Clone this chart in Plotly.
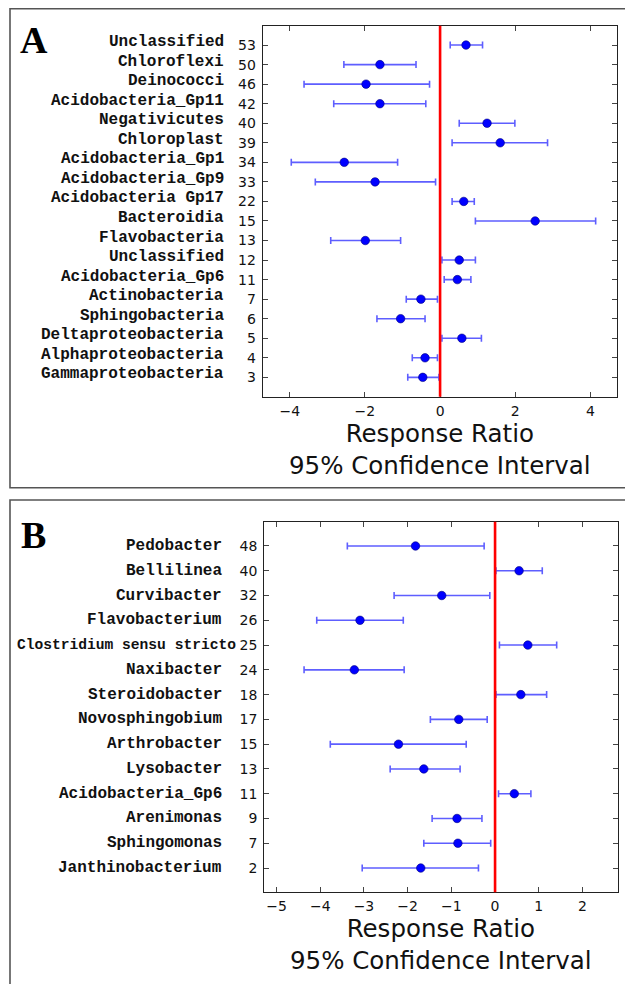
import plotly.graph_objects as go

# ---------------- Panel A data (top to bottom) ----------------
a_names = ["Unclassified", "Chloroflexi", "Deinococci", "Acidobacteria_Gp11",
           "Negativicutes", "Chloroplast", "Acidobacteria_Gp1", "Acidobacteria_Gp9",
           "Acidobacteria Gp17", "Bacteroidia", "Flavobacteria", "Unclassified",
           "Acidobacteria_Gp6", "Actinobacteria", "Sphingobacteria",
           "Deltaproteobacteria", "Alphaproteobacteria", "Gammaproteobacteria"]
a_ids = ["53", "50", "46", "42", "40", "39", "34", "33", "22", "15", "13", "12",
         "11", "7", "6", "5", "4", "3"]
a_mean = [0.69, -1.60, -1.97, -1.60, 1.25, 1.60, -2.55, -1.73, 0.63, 2.53, -1.99,
          0.51, 0.46, -0.51, -1.05, 0.58, -0.40, -0.46]
a_low = [0.27, -2.56, -3.62, -2.83, 0.51, 0.32, -3.96, -3.32, 0.32, 0.94, -2.91,
         0.05, 0.11, -0.90, -1.68, 0.05, -0.74, -0.86]
a_high = [1.13, -0.64, -0.28, -0.38, 1.99, 2.86, -1.13, -0.12, 0.91, 4.14, -1.05,
          0.94, 0.82, -0.07, -0.40, 1.10, -0.07, -0.03]

# ---------------- Panel B data (top to bottom) ----------------
b_names = ["Pedobacter", "Bellilinea", "Curvibacter", "Flavobacterium",
           "Clostridium sensu stricto", "Naxibacter", "Steroidobacter",
           "Novosphingobium", "Arthrobacter", "Lysobacter", "Acidobacteria_Gp6",
           "Arenimonas", "Sphingomonas", "Janthinobacterium"]
b_ids = ["48", "40", "32", "26", "25", "24", "18", "17", "15", "13", "11", "9", "7", "2"]
b_mean = [-1.82, 0.55, -1.22, -3.09, 0.75, -3.22, 0.59, -0.83, -2.21, -1.63, 0.44,
          -0.87, -0.85, -1.70]
b_low = [-3.38, 0.02, -2.31, -4.08, 0.10, -4.37, 0.02, -1.48, -3.77, -2.40, 0.08,
         -1.44, -1.63, -3.04]
b_high = [-0.25, 1.08, -0.12, -2.10, 1.41, -2.08, 1.18, -0.18, -0.66, -0.80, 0.82,
          -0.30, -0.10, -0.38]

a_xticks = [-4, -2, 0, 2, 4]
b_xticks = [-5, -4, -3, -2, -1, 0, 1, 2]

# ---------------- layout helpers ----------------
# page body has an 8px default margin; coordinates below are in window pixels
OFF = 8
W, H = 633 - OFF, 984 - OFF


def px(x):
    return (x - OFF) / W


def py(y):
    return 1 - (y - OFF) / H


fig = go.Figure()

PT_BLUE = "#0000ff"
ERR_BLUE = "rgba(40,40,255,0.75)"


def rows(ids):
    # row positions from top (largest) to bottom (0)
    n = len(ids)
    return [n - 1 - i for i in range(n)]


def add_panel(ids, mean, low, high, xaxis, yaxis):
    plus = [h - m for h, m in zip(high, mean)]
    minus = [m - l for m, l in zip(mean, low)]
    fig.add_trace(go.Scatter(
        x=mean, y=rows(ids), mode="markers", xaxis=xaxis, yaxis=yaxis,
        marker=dict(size=8.5, color=PT_BLUE, line=dict(width=0.6, color="#000080")),
        error_x=dict(type="data", symmetric=False, array=plus, arrayminus=minus,
                     color=ERR_BLUE, thickness=1.6, width=3.5),
        showlegend=False, hoverinfo="skip"))


add_panel(a_ids, a_mean, a_low, a_high, "x", "y")
add_panel(b_ids, b_mean, b_low, b_high, "x2", "y2")

tickfont = dict(family="DejaVu Sans", size=14, color="#111")
common = dict(showline=True, linecolor="#222", linewidth=1.2, mirror="allticks",
              ticks="inside", ticklen=5, tickcolor="#444", showgrid=False,
              zeroline=False, tickfont=tickfont)

A_L, A_R, A_T, A_B = 262.7, 616.7, 25.7, 396.7
B_L, B_R, B_T, B_B = 264.3, 618.3, 521.7, 892.3

nA = len(a_ids)
nB = len(b_ids)


def minus_lbl(v):
    return "\u2212" + str(-v) if v < 0 else str(v)


fig.update_layout(
    width=W, height=H, margin=dict(l=0, r=0, t=0, b=0),
    paper_bgcolor="white", plot_bgcolor="white",
    xaxis=dict(domain=[px(A_L), px(A_R)], range=[-4.72, 4.70], tickvals=a_xticks,
               ticktext=[minus_lbl(v) for v in a_xticks], anchor="y",
               ticklabelstandoff=1, **common),
    yaxis=dict(domain=[py(A_B), py(A_T)], range=[-0.99, nA - 0.01],
               tickvals=rows(a_ids), ticktext=a_ids, anchor="x",
               ticklabelstandoff=3, **common),
    xaxis2=dict(domain=[px(B_L), px(B_R)], range=[-5.28, 2.82], tickvals=b_xticks,
                ticktext=[minus_lbl(v) for v in b_xticks], anchor="y2",
                ticklabelstandoff=1, **common),
    yaxis2=dict(domain=[py(B_B), py(B_T)], range=[-0.98, nB - 0.02],
                tickvals=rows(b_ids), ticktext=b_ids, anchor="x2",
                ticklabelstandoff=3, **common),
)

shapes = []
shapes.append(dict(type="rect", xref="paper", yref="paper", x0=px(10), x1=px(660),
                   y0=py(487.7), y1=py(8.6), line=dict(color="#555", width=1.6),
                   layer="below"))
shapes.append(dict(type="rect", xref="paper", yref="paper", x0=px(10), x1=px(660),
                   y0=py(1010), y1=py(500), line=dict(color="#555", width=1.6),
                   layer="below"))
shapes.append(dict(type="line", xref="x", yref="y domain", x0=0, x1=0, y0=0, y1=1,
                   line=dict(color="#ff0000", width=2.6)))
shapes.append(dict(type="line", xref="x2", yref="y2 domain", x0=0, x1=0, y0=0, y1=1,
                   line=dict(color="#ff0000", width=2.6)))
fig.update_layout(shapes=shapes)

ann = []
name_font = dict(family="Liberation Mono", size=16, color="#111", weight="bold")
for name, r in zip(a_names, rows(a_ids)):
    ann.append(dict(text=name, x=px(226), xref="paper", y=r, yref="y",
                    xanchor="right", yanchor="middle", showarrow=False,
                    font=name_font, yshift=3))
for name, r in zip(b_names, rows(b_ids)):
    if len(name) > 20:
        ann.append(dict(text=name, x=px(238), xref="paper", y=r, yref="y2",
                        xanchor="right", yanchor="middle", showarrow=False,
                        font=dict(family="Liberation Mono", size=14.6, color="#111",
                                  weight="bold")))
    else:
        ann.append(dict(text=name, x=px(224), xref="paper", y=r, yref="y2",
                        xanchor="right", yanchor="middle", showarrow=False,
                        font=name_font))

title_font = dict(family="DejaVu Sans", size=24.5, color="#111")
ann.append(dict(text="Response Ratio<br>95% Confidence Interval",
                x=px((A_L + A_R) / 2), xref="paper", y=py(418), yref="paper",
                xanchor="center", yanchor="top", showarrow=False, font=title_font,
                borderpad=0))
ann.append(dict(text="Response Ratio<br>95% Confidence Interval",
                x=px((B_L + B_R) / 2), xref="paper", y=py(913), yref="paper",
                xanchor="center", yanchor="top", showarrow=False, font=title_font,
                borderpad=0))

letter_font = dict(family="Liberation Serif", size=38, color="black", weight="bold")
ann.append(dict(text="<b>A</b>", x=px(18), xref="paper", y=py(17), yref="paper",
                xanchor="left", yanchor="top", showarrow=False, font=letter_font))
ann.append(dict(text="<b>B</b>", x=px(19), xref="paper", y=py(512), yref="paper",
                xanchor="left", yanchor="top", showarrow=False, font=letter_font))

fig.update_layout(annotations=ann)
fig.write_html("out.html")
